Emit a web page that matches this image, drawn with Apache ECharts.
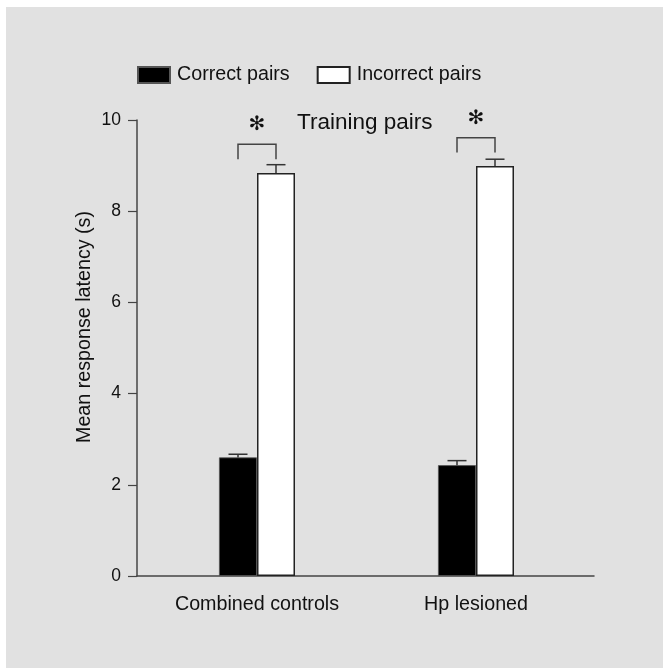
<!DOCTYPE html>
<html lang="en">
<head>
    <meta charset="UTF-8">
    <title>Training pairs</title>
    <style>
        html, body { margin: 0; padding: 0; background: #fff; }
        #chart { width: 663px; height: 668px; }
    </style>
</head>
<body>
<div id="chart"></div>

<script src="https://cdn.jsdelivr.net/npm/echarts@6/dist/echarts.min.js"></script>
<script>
// data
var groups = ['Combined controls', 'Hp lesioned'];
var correctMean = [2.60, 2.43];
var correctErr = [2.67, 2.53];      // upper end of error bar
var incorrectMean = [8.84, 8.99];
var incorrectErr = [9.02, 9.14];
var bracketTop = [9.47, 9.61];
var bracketLeg = [9.14, 9.29];
var yTicks = [0, 2, 4, 6, 8, 10];

var FONT = 'Liberation Sans, Arial, sans-serif';
var FS = 19.7;
var BAR_W = 38;

function errorBar(offset) {
  return function (params, api) {
    var base = api.coord([api.value(0), api.value(1)]);
    var top = api.coord([api.value(0), api.value(2)]);
    var cx = base[0] + offset;
    var st = {stroke: '#333', lineWidth: 1.5};
    return {type: 'group', children: [
      {type: 'line', shape: {x1: cx, y1: base[1], x2: cx, y2: top[1]}, style: st},
      {type: 'line', shape: {x1: cx - 9.5, y1: top[1], x2: cx + 9.5, y2: top[1]}, style: st}
    ]};
  };
}

function bracket(params, api) {
  var leg = api.coord([api.value(0), api.value(1)]);
  var top = api.coord([api.value(0), api.value(2)]);
  var x1 = leg[0] - BAR_W / 2, x2 = leg[0] + BAR_W / 2;
  var st = {stroke: '#444', lineWidth: 1.5, fill: null};
  return {type: 'group', children: [
    {type: 'polyline', shape: {points: [[x1, leg[1]], [x1, top[1]], [x2, top[1]], [x2, leg[1]]]}, style: st},
    {type: 'text', x: leg[0], y: top[1] - 19,
     style: {text: '✻', font: 'bold 20px DejaVu Sans', fill: '#111', align: 'center', verticalAlign: 'middle'}}
  ]};
}

var chart = echarts.init(document.getElementById('chart'));
chart.setOption({
  animation: false,
  textStyle: {fontFamily: FONT},
  graphic: [{type: 'rect', z: -10, shape: {x: 6, y: 7, width: 663, height: 668}, style: {fill: '#e1e1e1'}}],
  title: {
    text: 'Training pairs', left: 297, top: 111, padding: 0,
    textStyle: {fontFamily: FONT, fontSize: 22.5, fontWeight: 'normal', color: '#111'}
  },
  legend: {
    left: 137, top: 65, padding: 0, itemWidth: 32, itemHeight: 16, itemGap: 27,
    icon: 'rect',
    textStyle: {fontFamily: FONT, fontSize: FS, color: '#111', padding: [0, 0, 0, 2]},
    data: ['Correct pairs', 'Incorrect pairs']
  },
  grid: [
    {left: 147.5, right: 77.5, top: 120, bottom: 92},
    {left: 137, right: 69, top: 120, bottom: 92}
  ],
  xAxis: [
    {type: 'category', gridIndex: 0, data: groups,
     axisLine: {show: false}, axisTick: {show: false},
     axisLabel: {fontFamily: FONT, fontSize: FS, color: '#111', margin: 19}},
    {type: 'category', gridIndex: 1, data: [''],
     axisLine: {lineStyle: {color: '#444', width: 1.5}}, axisTick: {show: false}, axisLabel: {show: false}}
  ],
  yAxis: [
    {type: 'value', gridIndex: 0, min: 0, max: 10, show: false},
    {type: 'value', gridIndex: 1, min: 0, max: 10, interval: 2,
     name: 'Mean response latency (s)', nameLocation: 'middle', nameGap: 42, nameRotate: 90,
     nameMoveOverlap: false,
     nameTextStyle: {fontFamily: FONT, fontSize: FS, color: '#111', padding: [0, 0, 0, 42]},
     axisLine: {show: true, lineStyle: {color: '#444', width: 1.5}},
     axisTick: {show: true, length: 9, lineStyle: {color: '#444', width: 1.2}},
     axisLabel: {fontFamily: FONT, fontSize: 17.5, color: '#111', margin: 16,
                 formatter: function (v) { return yTicks.indexOf(v) >= 0 ? String(v) : ''; }},
     splitLine: {show: false}}
  ],
  series: [
    {name: 'Correct pairs', type: 'bar', xAxisIndex: 0, yAxisIndex: 0, data: correctMean,
     barWidth: BAR_W, barGap: '0%',
     itemStyle: {color: '#000', borderColor: '#555', borderWidth: 0.8}},
    {name: 'Incorrect pairs', type: 'bar', xAxisIndex: 0, yAxisIndex: 0, data: incorrectMean,
     barWidth: BAR_W, barGap: '0%',
     itemStyle: {color: '#fff', borderColor: '#222', borderWidth: 1.5}},
    {type: 'custom', xAxisIndex: 0, yAxisIndex: 0, z: 3,
     renderItem: errorBar(-BAR_W / 2),
     data: groups.map(function (g, i) { return [i, correctMean[i], correctErr[i]]; })},
    {type: 'custom', xAxisIndex: 0, yAxisIndex: 0, z: 3,
     renderItem: errorBar(BAR_W / 2),
     data: groups.map(function (g, i) { return [i, incorrectMean[i], incorrectErr[i]]; })},
    {type: 'custom', xAxisIndex: 0, yAxisIndex: 0, z: 3,
     renderItem: bracket,
     data: groups.map(function (g, i) { return [i, bracketLeg[i], bracketTop[i]]; })}
  ]
});
</script>
</body>
</html>
